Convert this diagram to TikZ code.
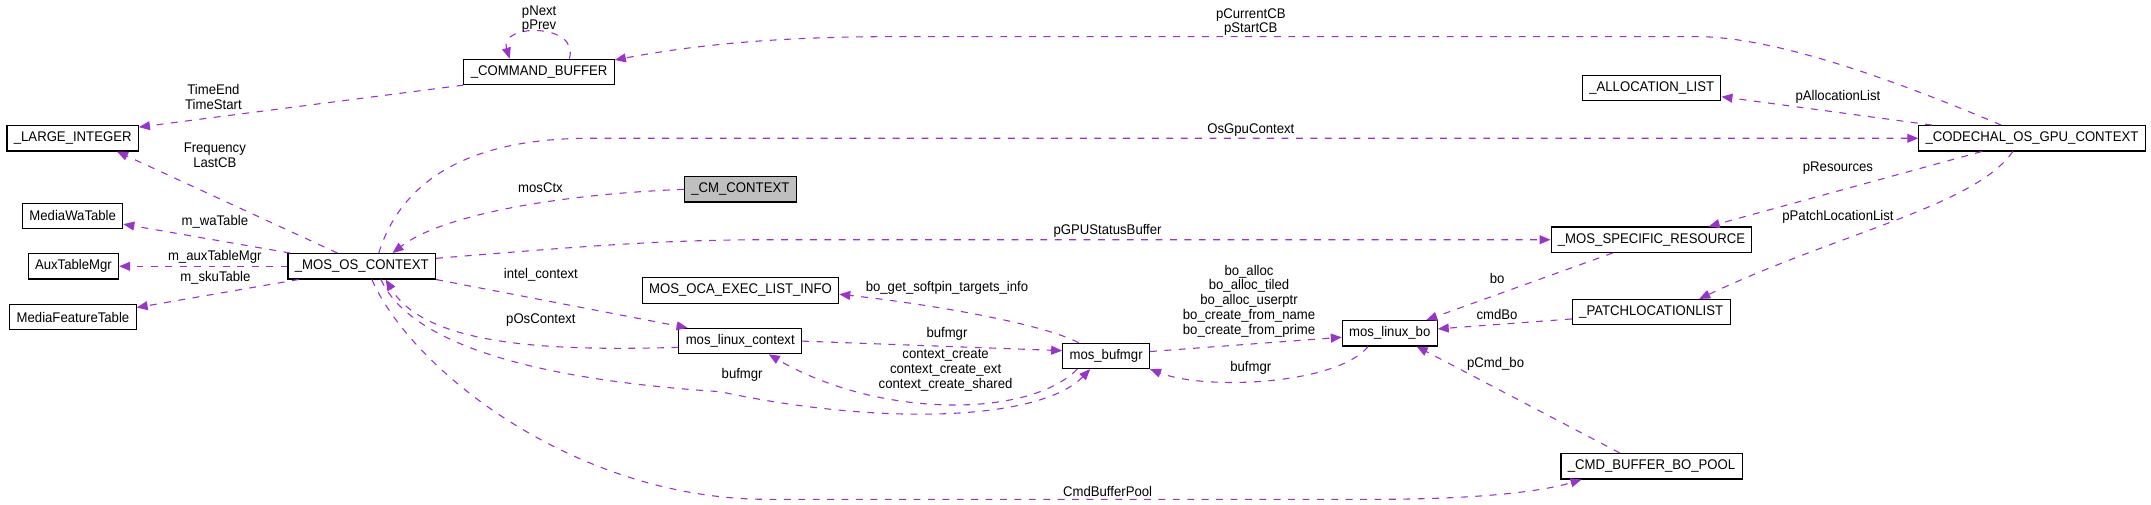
\documentclass[tikz,border=0pt]{standalone}
\usepackage{fontspec}
\setmainfont{Liberation Sans}[FakeStretch=0.94]
\usetikzlibrary{arrows.meta}
\definecolor{usepurple}{HTML}{9A32CD}
\definecolor{maingray}{HTML}{BFBFBF}
\newcommand{\dxfont}{\fontsize{10.2}{10.75}\selectfont}

\begin{document}
\begin{tikzpicture}[x=1pt,y=-1pt,
  cls/.style={draw=black,line width=0.8pt,fill=white,font=\dxfont,inner xsep=5pt,inner ysep=0pt,minimum height=18.5pt},
  use/.style={draw=usepurple,line width=0.8pt,dash pattern=on 5pt off 5.5pt,-{Triangle[length=8pt,width=6.5pt]}},
  lbl/.style={font=\dxfont,inner sep=0pt,align=center}]
  \useasboundingbox (0,0) rectangle (1568,368);

  \node[cls] (cmdbuf) at (393,52.4) {\_COMMAND\_BUFFER};
  \node[cls] (largeint) at (53,100.8) {\_LARGE\_INTEGER};
  \node[cls] (mediawa) at (53,157.4) {MediaWaTable};
  \node[cls] (auxtbl) at (53.5,194.1) {AuxTableMgr};
  \node[cls] (mediafeat) at (53.2,231.1) {MediaFeatureTable};
  \node[cls] (mosctx) at (263.7,194.1) {\_MOS\_OS\_CONTEXT};
  \node[cls,fill=maingray] (cmctx) at (539.7,138) {\_CM\_CONTEXT};
  \node[cls] (ocainfo) at (539.8,211.7) {MOS\_OCA\_EXEC\_LIST\_INFO};
  \node[cls] (linuxctx) at (539.6,248.65) {mos\_linux\_context};
  \node[cls] (bufmgr) at (806.3,259.45) {mos\_bufmgr};
  \node[cls] (linuxbo) at (1013.1,242.95) {mos\_linux\_bo};
  \node[cls] (allocl) at (1204,64.15) {\_ALLOCATION\_LIST};
  \node[cls] (gpuctx) at (1481.25,100.8) {\_CODECHAL\_OS\_GPU\_CONTEXT};
  \node[cls] (specres) at (1203.85,174.75) {\_MOS\_SPECIFIC\_RESOURCE};
  \node[cls] (patchl) at (1203.65,227.55) {\_PATCHLOCATIONLIST};
  \node[cls] (bopool) at (1203.9,339.9) {\_CMD\_BUFFER\_BO\_POOL};

  \draw[use] ([xshift=22pt]cmdbuf.north) .. controls +(8,-26) and +(-8,-26) .. ([xshift=-21.5pt]cmdbuf.north);
  \node[lbl] (lNext) at (393,14) {pNext\\pPrev};
  \draw[use] (cmdbuf.south west) -- ([yshift=-1.5pt]largeint.north east);
  \node[lbl] (lTime) at (155.6,70.8) {TimeEnd\\TimeStart};
  \draw[use] ([xshift=-22.5pt]gpuctx.north) .. controls (1385,60) and (1295,26.7) .. (1236.8,26.7) -- (650.8,26.7) .. controls (565,26.7) and (505,33) .. ([yshift=8.7pt]cmdbuf.east);
  \node[lbl] (lCurCB) at (911.8,16) {pCurrentCB\\pStartCB};
  \draw[use] ([xshift=-17.7pt]mosctx.north) -- ([xshift=32.3pt]largeint.south);
  \node[lbl] (lFreq) at (156.6,113) {Frequency\\LastCB};
  \draw[use] ([xshift=2pt]mosctx.north west) -- ([yshift=-6pt]mediawa.east);
  \node[lbl] (lWa) at (156.6,162) {m\_waTable};
  \draw[use] (mosctx.west) -- (auxtbl.east);
  \node[lbl] (lAux) at (156.6,187.5) {m\_auxTableMgr};
  \draw[use] ([xshift=-46pt]mosctx.south) -- ([yshift=6.9pt]mediafeat.east);
  \node[lbl] (lSku) at (157,202.8) {m\_skuTable};
  \draw[use] (cmctx.west) .. controls (400,142) and (320,158) .. ([xshift=22.5pt]mosctx.north);
  \node[lbl] (lMos) at (394,136.8) {mosCtx};
  \draw[use] ([xshift=12.4pt]mosctx.north) .. controls (290,140) and (330,100.8) .. (430,100.8) -- (gpuctx.west);
  \node[lbl] (lGpu) at (911.8,94.8) {OsGpuContext};
  \draw[use] ([yshift=5.8pt]mosctx.east) .. controls (420,180) and (480,174.75) .. (560,174.75) -- (specres.west);
  \node[lbl] (lStat) at (807.4,168.4) {pGPUStatusBuffer};
  \draw[use] (mosctx.south east) -- ([xshift=6.7pt]linuxctx.north west);
  \node[lbl] (lIntel) at (394.3,200.4) {intel\_context};
  \draw[use] ([yshift=-4.55pt]linuxctx.west) .. controls (400,256) and (310,252) .. ([xshift=17.5pt]mosctx.south);
  \node[lbl] (lOs) at (394.3,233.2) {pOsContext};
  \draw[use] ([xshift=14pt]mosctx.south) .. controls (298,248) and (380,276) .. (524.8,285.5) .. controls (650,312) and (760,305) .. ([xshift=-11.6pt]bufmgr.south);
  \node[lbl] (lBuf1) at (541,273.3) {bufmgr};
  \draw[use] (linuxctx.east) -- ([yshift=3.85pt]bufmgr.west);
  \node[lbl] (lBuf2) at (690.3,243.7) {bufmgr};
  \draw[use] ([xshift=-21pt]bufmgr.south) .. controls (750,305) and (640,305) .. ([xshift=20.8pt]linuxctx.south);
  \node[lbl] (lCreate) at (689.3,270.1) {context\_create\\context\_create\_ext\\context\_create\_shared};
  \draw[use] ([xshift=-20pt]bufmgr.north) .. controls (760,236) and (680,222) .. ([yshift=-2.8pt]ocainfo.east);
  \node[lbl] (lSoft) at (690.3,209.7) {bo\_get\_softpin\_targets\_info};
  \draw[use] ([yshift=3.2pt]bufmgr.east) -- ([yshift=-2.9pt]linuxbo.west);
  \node[lbl] (lAlloc) at (910.5,219.5) {bo\_alloc\\bo\_alloc\_tiled\\bo\_alloc\_userptr\\bo\_create\_from\_name\\bo\_create\_from\_prime};
  \draw[use] ([xshift=-15.8pt]linuxbo.south) .. controls (975,280) and (880,285) .. (bufmgr.south east);
  \node[lbl] (lBuf3) at (911.8,268.5) {bufmgr};
  \draw[use] ([xshift=-28.2pt]specres.south) -- ([xshift=26.6pt]linuxbo.north);
  \node[lbl] (lBo) at (1091.3,202.8) {bo};
  \draw[use] ([yshift=-4.95pt]patchl.west) -- ([yshift=3.2pt]linuxbo.east);
  \node[lbl] (lCmdBo) at (1091.3,229.6) {cmdBo};
  \draw[use] ([xshift=-23pt]bopool.north) -- ([xshift=19.6pt]linuxbo.south);
  \node[lbl] (lPCmd) at (1090.2,265.3) {pCmd\_bo};
  \draw[use] ([xshift=7.4pt]mosctx.south) .. controls (300,270) and (420,364) .. (560,364) -- (1000,364) .. controls (1080,364) and (1125,358) .. ([xshift=-51pt]bopool.south);
  \node[lbl] (lPool) at (807.4,358.4) {CmdBufferPool};
  \draw[use] ([xshift=-73pt]gpuctx.north) -- ([yshift=-6.35pt]allocl.east);
  \node[lbl] (lAllocL) at (1339.8,70.5) {pAllocationList};
  \draw[use] ([xshift=-36.6pt]gpuctx.south) -- ([xshift=41.7pt]specres.north);
  \node[lbl] (lRes) at (1339.8,122.7) {pResources};
  \draw[use] ([xshift=-14pt]gpuctx.south) .. controls (1440,150) and (1340,170) .. ([xshift=35pt]patchl.north);
  \node[lbl] (lPatch) at (1339.8,158) {pPatchLocationList};
\end{tikzpicture}
\end{document}
